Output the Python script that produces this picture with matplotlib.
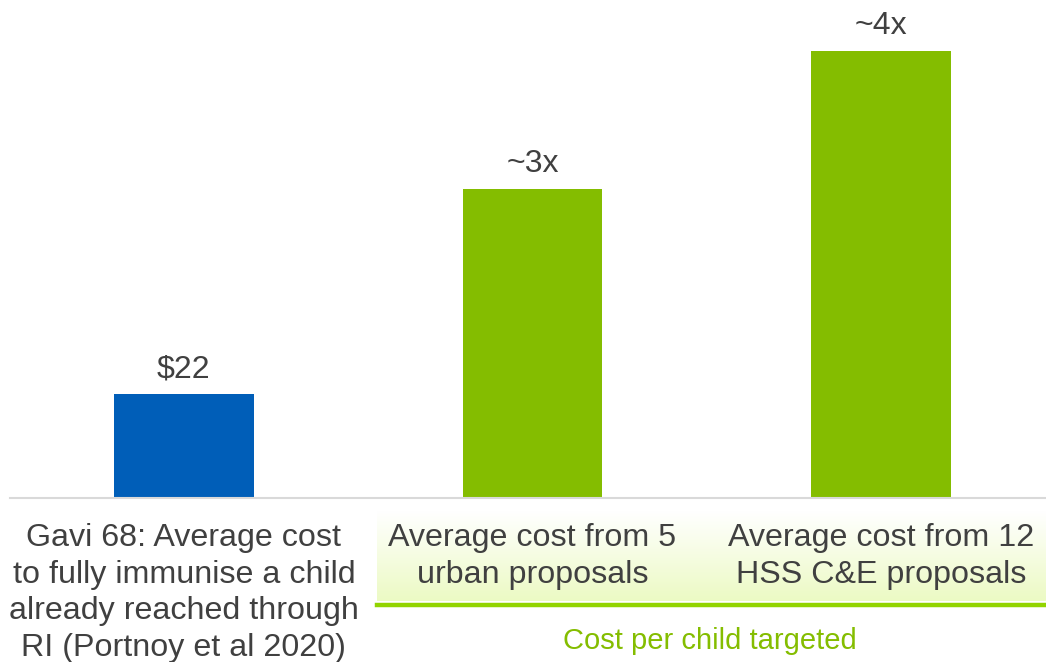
import numpy as np
import matplotlib.pyplot as plt

plt.rcParams['font.family'] = ['Liberation Sans', 'DejaVu Sans']

categories = [
    "Gavi 68: Average cost\nto fully immunise a child\nalready reached through\nRI (Portnoy et al 2020)",
    "Average cost from 5\nurban proposals",
    "Average cost from 12\nHSS C&E proposals",
]
values = [22, 65.4, 94.6]
bar_labels = ["$22", "~3x", "~4x"]
group_label = "Cost per child targeted"

blue = "#005EB8"
green = "#84BD00"
text_col = "#404040"

W, H = 1046, 662
fig = plt.figure(figsize=(W / 100, H / 100), dpi=100)

# gradient box behind the grouped labels
gax = fig.add_axes([377 / W, (H - 601) / H, (W - 377) / W, 90 / H])
grad = np.linspace(0, 1, 100).reshape(-1, 1)
top = np.array([1.0, 1.0, 1.0])
bot = np.array([236, 250, 196]) / 255
img = top + (bot - top) * grad[:, :, None]
gax.imshow(img, aspect='auto', extent=[0, 1, 1, 0])
gax.set_axis_off()

# main axes
ax = fig.add_axes([10 / W, (H - 498) / H, (W - 10) / W, 498 / H])
x = np.arange(len(values))
colors = [blue, green, green]
bars = ax.bar(x, values, width=0.401, color=colors, zorder=2)
ax.set_xlim(-0.4986, 2.473)
ax.set_ylim(0, 498 / (447 / 94.6))

for b, lab in zip(bars, bar_labels):
    ax.annotate(lab, (b.get_x() + b.get_width() / 2, b.get_height()),
                xytext=(0, 7), textcoords='offset points',
                ha='center', va='bottom', fontsize=23, color=text_col)

for s in ['top', 'right', 'left']:
    ax.spines[s].set_visible(False)
ax.spines['bottom'].set_color('#D9D9D9')
ax.spines['bottom'].set_linewidth(1.5)
ax.set_yticks([])
ax.set_xticks([])

# category labels under the axis
for xi, cat in zip(x, categories):
    ax.text(xi, -25 / 498 * ax.get_ylim()[1], cat, ha='center', va='top',
            fontsize=23.2, color=text_col, linespacing=1.29,
            transform=ax.transData, clip_on=False)

# green underline + group label
fig.add_artist(plt.Line2D([377 / W, 1.0], [(H - 605) / H] * 2,
                          color="#92D400", linewidth=3.2))
fig.text(710 / W, (H - 641) / H, group_label, ha='center', va='center',
         fontsize=21, color=green)

fig.savefig("out.png", dpi=100)
